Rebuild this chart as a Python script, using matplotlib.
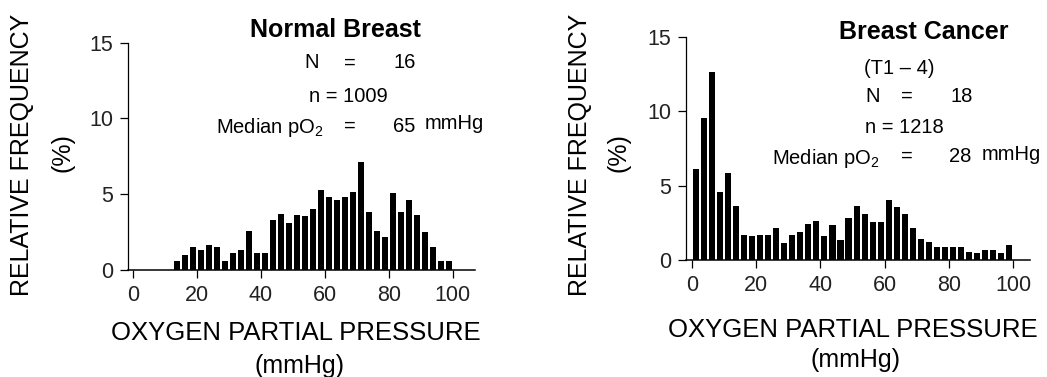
import numpy as np
import matplotlib.pyplot as plt
import matplotlib as mpl

mpl.rcParams['font.family'] = ['Liberation Sans', 'DejaVu Sans']
mpl.rcParams['mathtext.fontset'] = 'custom'
mpl.rcParams['mathtext.rm'] = 'Liberation Sans'

# ---------------- data ----------------
BIN = 2.5  # mmHg per histogram class

# Normal breast: classes 12.5-15 ... 97.5-100
normal_left = np.arange(12.5, 100, BIN)
normal_freq = [0.59, 1.02, 1.53, 1.29, 1.63, 1.53, 0.57, 1.11, 1.33, 2.59,
               1.11, 1.11, 3.33, 3.70, 3.07, 3.63, 3.54, 4.04, 5.30, 4.83,
               4.59, 4.80, 5.13, 7.10, 3.85, 2.57, 2.17, 5.09, 3.80, 4.59,
               3.65, 2.52, 1.52, 0.59, 0.59]

# Breast cancer: classes 0-2.5 ... 97.5-100
cancer_left = np.arange(0, 100, BIN)
cancer_freq = [6.12, 9.57, 12.65, 4.57, 5.85, 3.61, 1.66, 1.62, 1.66, 1.66,
               2.15, 1.15, 1.66, 1.90, 2.40, 2.60, 1.61, 2.35, 1.35, 2.85,
               3.63, 3.09, 2.58, 2.58, 4.04, 3.59, 3.07, 2.15, 1.41, 1.19,
               0.90, 0.90, 0.90, 0.90, 0.52, 0.47, 0.67, 0.67, 0.45, 1.00]

xticks = [0, 20, 40, 60, 80, 100]
yticks = [0, 5, 10, 15]

W, H = 1047, 377


def fx(px):
    return px / W


def fy(py):
    return 1 - py / H


def draw_hist(ax, left, freq, xlim):
    ax.bar(left + BIN / 2, freq, width=BIN * 0.76, color='black',
           edgecolor='none', align='center')
    ax.set_xlim(*xlim)
    ax.set_ylim(0, 15)
    ax.set_xticks(xticks)
    ax.set_yticks(yticks)
    ax.spines['top'].set_visible(False)
    ax.spines['right'].set_visible(False)
    ax.spines['left'].set_linewidth(0.9)
    ax.spines['bottom'].set_linewidth(1.1)
    ax.spines['left'].set_bounds(0, 15)
    ax.tick_params(axis='both', direction='out', length=5.5, width=0.9,
                   labelsize=15.5, pad=5, labelcolor='#222222')
    ax.patch.set_alpha(0)


fig = plt.figure(figsize=(W / 100, H / 100), dpi=100)

# left panel
axL = fig.add_axes([fx(127.7), fy(270), fx(475 - 127.7), (270 - 42.7) / H])
draw_hist(axL, normal_left, normal_freq, (-1.6, 107))

# right panel
axR = fig.add_axes([fx(685.7), fy(260), fx(1030 - 685.7), (260 - 36.7) / H])
draw_hist(axR, cancer_left, cancer_freq, (-1.9, 105.2))

# axis labels
for xc, xpc in [(21.7, 63), (580, 618)]:
    fig.text(fx(xc), fy(155), 'RELATIVE FREQUENCY', rotation=90,
             ha='center', va='center', fontsize=18)
    fig.text(fx(xpc), fy(153), '(%)', rotation=90,
             ha='center', va='center', fontsize=18)

for xc, y1, y2 in [(296, 333, 366), (853, 330, 360)]:
    fig.text(fx(xc), fy(y1), 'OXYGEN PARTIAL PRESSURE',
             ha='center', va='center', fontsize=18.5)
    fig.text(fx(xc + 3), fy(y2), '(mmHg)',
             ha='center', va='center', fontsize=18)

# annotations, left
fs = 14.5
sub = r'Median pO$_\mathregular{2}$'
fig.text(fx(335), fy(30), 'Normal Breast', ha='center', va='center',
         fontsize=18, fontweight='bold')
fig.text(fx(311.7), fy(63), 'N', ha='center', va='center', fontsize=fs)
fig.text(fx(350), fy(63), '=', ha='center', va='center', fontsize=fs)
fig.text(fx(405), fy(63), '16', ha='center', va='center', fontsize=fs)
fig.text(fx(348), fy(96), 'n = 1009', ha='center', va='center', fontsize=fs)
fig.text(fx(216), fy(128), sub, ha='left', va='center', fontsize=fs)
fig.text(fx(350), fy(126), '=', ha='center', va='center', fontsize=fs)
fig.text(fx(404), fy(126), '65', ha='center', va='center', fontsize=fs)
fig.text(fx(425), fy(124), 'mmHg', ha='left', va='center', fontsize=fs)

# annotations, right
fig.text(fx(924), fy(31.7), 'Breast Cancer', ha='center', va='center',
         fontsize=18, fontweight='bold')
fig.text(fx(899), fy(68), '(T1 \u2013 4)', ha='center', va='center', fontsize=fs)
fig.text(fx(873), fy(96.7), 'N', ha='center', va='center', fontsize=fs)
fig.text(fx(906.7), fy(96.7), '=', ha='center', va='center', fontsize=fs)
fig.text(fx(961.7), fy(96.7), '18', ha='center', va='center', fontsize=fs)
fig.text(fx(904), fy(127.7), 'n = 1218', ha='center', va='center', fontsize=fs)
fig.text(fx(771.7), fy(158.7), sub, ha='left', va='center', fontsize=fs)
fig.text(fx(906.7), fy(156.7), '=', ha='center', va='center', fontsize=fs)
fig.text(fx(960), fy(156.7), '28', ha='center', va='center', fontsize=fs)
fig.text(fx(981.7), fy(155), 'mmHg', ha='left', va='center', fontsize=fs)

fig.savefig('out.png', dpi=100)
